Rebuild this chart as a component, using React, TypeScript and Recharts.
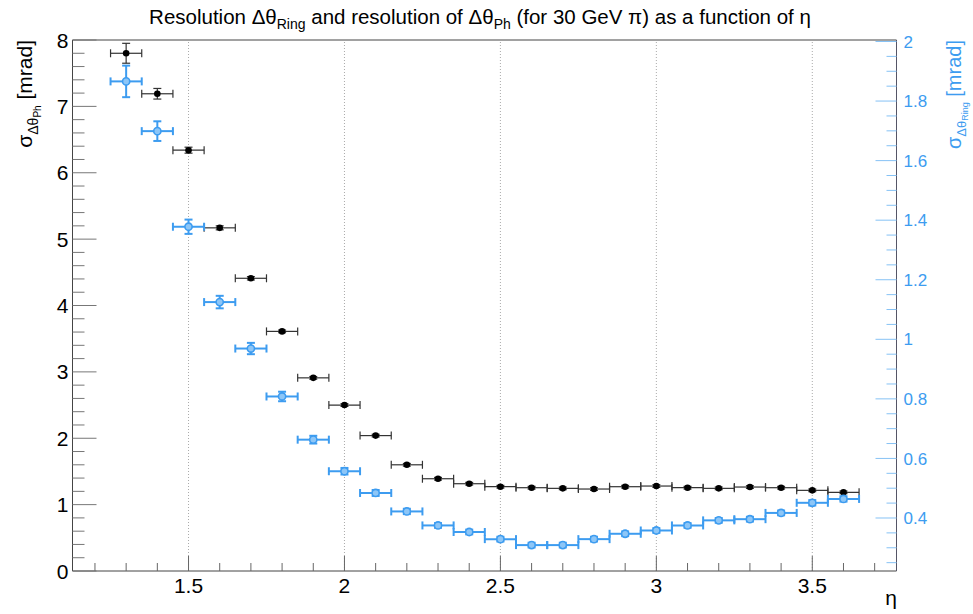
import React from "react";
import { ScatterChart, Scatter, XAxis, YAxis, ErrorBar, ReferenceLine } from "recharts";

// eta bin centres, bin half width 0.05
const etaBins = [1.3, 1.4, 1.5, 1.6, 1.7, 1.8, 1.9, 2.0, 2.1, 2.2, 2.3, 2.4, 2.5, 2.6, 2.7, 2.8, 2.9, 3.0, 3.1, 3.2, 3.3, 3.4, 3.5, 3.6];
const etaHalfWidth = 0.05;

// sigma dTheta_Ph [mrad] (left axis)
const phResolution = [7.8, 7.19, 6.34, 5.17, 4.41, 3.61, 2.91, 2.5, 2.04, 1.6, 1.39, 1.315, 1.27, 1.255, 1.245, 1.235, 1.27, 1.28, 1.255, 1.245, 1.265, 1.255, 1.215, 1.185];
const phErrors = [0.15, 0.08, 0.045, 0.03, 0.025, 0.02, 0.02, 0.02, 0.02, 0.02, 0.02, 0.02, 0.02, 0.02, 0.02, 0.02, 0.02, 0.02, 0.02, 0.02, 0.02, 0.02, 0.02, 0.02];

// sigma dTheta_Ring [mrad] (right axis)
const ringResolution = [1.866, 1.699, 1.378, 1.125, 0.969, 0.808, 0.663, 0.557, 0.484, 0.422, 0.375, 0.353, 0.329, 0.309, 0.309, 0.329, 0.347, 0.358, 0.375, 0.392, 0.396, 0.417, 0.451, 0.464];
const ringErrors = [0.053, 0.033, 0.024, 0.021, 0.019, 0.016, 0.013, 0.011, 0.01, 0.009, 0.008, 0.008, 0.008, 0.008, 0.008, 0.008, 0.008, 0.008, 0.008, 0.008, 0.008, 0.008, 0.009, 0.009];

const xMajorTicks = [1.5, 2, 2.5, 3, 3.5];
const leftMajorTicks = [0, 1, 2, 3, 4, 5, 6, 7, 8];
const rightMajorTicks = [0.4, 0.6, 0.8, 1, 1.2, 1.4, 1.6, 1.8, 2];

const FONT = "'Liberation Sans', Arial, Helvetica, sans-serif";
const BLUE = "#3d9cf0";
const BLUE_TICK = "#86c2f5";

function stepTicks(from: number, to: number, step: number) {
  const out: number[] = [];
  const n = Math.round((to - from) / step);
  for (let i = 0; i <= n; i++) out.push(Math.round((from + i * step) * 1000) / 1000);
  return out;
}

const xTicks = stepTicks(1.2, 3.7, 0.1);
const leftTicks = stepTicks(0, 8, 0.2);
const rightTicks = stepTicks(0.25, 2, 0.05);

const isMajor = (majors: number[], v: number) => majors.some((m) => Math.abs(m - v) < 1e-6);
const fmt = (v: number) => String(Number(v.toFixed(2)));

const phData = etaBins.map((eta, i) => ({ eta, value: phResolution[i], etaErr: etaHalfWidth, valueErr: phErrors[i] }));
const ringData = etaBins.map((eta, i) => ({ eta, value: ringResolution[i], etaErr: etaHalfWidth, valueErr: ringErrors[i] }));

const XTick = (props: any) => {
  const { x, y, payload } = props;
  const major = isMajor(xMajorTicks, payload.value);
  return (
    <g>
      <line x1={x} x2={x} y1={y} y2={y - (major ? 15 : 8)} stroke="#666" />
      {major && (
        <text x={x} y={y + 22} textAnchor="middle" fontSize={21} fontFamily={FONT} fill="#000">
          {fmt(payload.value)}
        </text>
      )}
    </g>
  );
};

const LeftTick = (props: any) => {
  const { x, y, payload } = props;
  const major = isMajor(leftMajorTicks, payload.value);
  return (
    <g>
      <line x1={x} x2={x + (major ? 24 : 12)} y1={y} y2={y} stroke="#777" />
      {major && (
        <text x={x - 4} y={y} dy="0.36em" textAnchor="end" fontSize={21} fontFamily={FONT} fill="#000">
          {fmt(payload.value)}
        </text>
      )}
    </g>
  );
};

const RightTick = (props: any) => {
  const { x, y, payload } = props;
  const major = isMajor(rightMajorTicks, payload.value);
  return (
    <g>
      <line x1={x} x2={x - (major ? 21 : 10)} y1={y} y2={y} stroke={BLUE_TICK} />
      {major && (
        <text x={x + 7} y={y} dy="0.36em" textAnchor="start" fontSize={17} fontFamily={FONT} fill={BLUE}>
          {fmt(payload.value)}
        </text>
      )}
    </g>
  );
};

const BlackDot = (props: any) => <circle cx={props.cx} cy={props.cy} r={3.3} fill="#000" />;
const BlueDot = (props: any) => <circle cx={props.cx} cy={props.cy} r={3.6} fill="#8dc6f7" stroke={BLUE} strokeWidth={1.6} />;

export default function App() {
  return (
    <div style={{ position: "absolute", left: 0, top: 0, width: 973, height: 614, background: "#fff" }}>
      <ScatterChart width={973} height={614} margin={{ top: 40, right: 16.5, bottom: 0, left: 12.5 }}>
        <XAxis
          type="number"
          dataKey="eta"
          domain={[1.128, 3.77]}
          ticks={xTicks}
          interval={0}
          tick={<XTick />}
          tickLine={false}
          tickSize={0}
          tickMargin={0}
          height={43}
          axisLine={{ stroke: "#444" }}
        />
        <YAxis
          yAxisId="left"
          type="number"
          dataKey="value"
          domain={[0, 8]}
          ticks={leftTicks}
          interval={0}
          tick={<LeftTick />}
          tickLine={false}
          tickSize={0}
          tickMargin={0}
          width={60}
          axisLine={{ stroke: "#444" }}
        />
        <YAxis
          yAxisId="right"
          orientation="right"
          type="number"
          dataKey="value"
          domain={[0.222, 2.005]}
          ticks={rightTicks}
          interval={0}
          tick={<RightTick />}
          tickLine={false}
          tickSize={0}
          tickMargin={0}
          width={60}
          axisLine={{ stroke: "#556" }}
        />
        {xMajorTicks.map((v) => (
          <ReferenceLine key={v} x={v} yAxisId="left" stroke="#aaa" strokeDasharray="1 2" />
        ))}
        <ReferenceLine y={8} yAxisId="left" stroke="#444" />
        <Scatter data={phData} yAxisId="left" shape={<BlackDot />} isAnimationActive={false}>
          <ErrorBar dataKey="etaErr" direction="x" width={4} stroke="#333" strokeWidth={1.2} isAnimationActive={false} />
          <ErrorBar dataKey="valueErr" direction="y" width={4} stroke="#333" strokeWidth={1.2} isAnimationActive={false} />
        </Scatter>
        <Scatter data={ringData} yAxisId="right" shape={<BlueDot />} isAnimationActive={false}>
          <ErrorBar dataKey="etaErr" direction="x" width={4} stroke={BLUE} strokeWidth={2} isAnimationActive={false} />
          <ErrorBar dataKey="valueErr" direction="y" width={4} stroke={BLUE} strokeWidth={2} isAnimationActive={false} />
        </Scatter>
      </ScatterChart>
      <svg width={973} height={614} style={{ position: "absolute", left: 0, top: 0, pointerEvents: "none" }} fontFamily={FONT}>
        <text x={480} y={24} textAnchor="middle" fontSize={20.5} fill="#000">
          Resolution Δθ
          <tspan dy={5} fontSize={14}>Ring</tspan>
          <tspan dy={-5}>{" and resolution of Δθ"}</tspan>
          <tspan dy={5} fontSize={14}>Ph</tspan>
          <tspan dy={-5}>{" (for 30 GeV π) as a function of η"}</tspan>
        </text>
        <text transform="translate(32,40) rotate(-90)" textAnchor="end" fontSize={21} fill="#000">
          σ
          <tspan dy={6} fontSize={14}>Δθ</tspan>
          <tspan dy={3} fontSize={10}>Ph</tspan>
          <tspan dy={-9}>{" [mrad]"}</tspan>
        </text>
        <text transform="translate(961,40) rotate(-90)" textAnchor="end" fontSize={20} fill={BLUE}>
          σ
          <tspan dy={5} fontSize={13}>Δθ</tspan>
          <tspan dy={2} fontSize={9}>Ring</tspan>
          <tspan dy={-7}>{" [mrad]"}</tspan>
        </text>
        <text x={897} y={605} textAnchor="end" fontSize={21} fill="#000">
          η
        </text>
      </svg>
    </div>
  );
}
